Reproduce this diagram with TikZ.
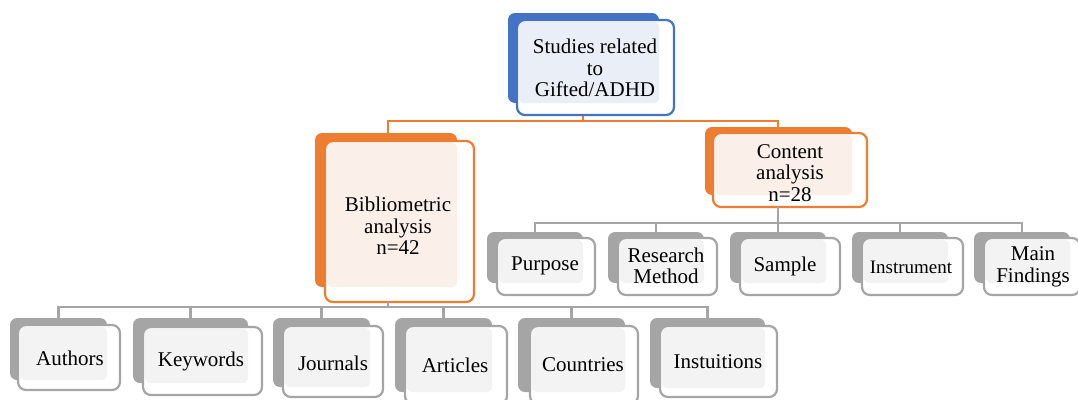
\documentclass[tikz,border=0pt]{standalone}
\usepackage{fontspec}
\setmainfont{Liberation Serif}
\usetikzlibrary{fit}
\definecolor{blueD}{HTML}{4472C4}
\definecolor{blueL}{HTML}{E9EEF7}
\definecolor{orangeD}{HTML}{ED7D31}
\definecolor{orangeL}{HTML}{FBEFE9}
\definecolor{grayD}{HTML}{A5A5A5}
\definecolor{grayL}{HTML}{F3F3F3}
\tikzset{
  backbox/.style={fill=#1D, rounded corners=7pt, inner sep=0pt, draw=none},
  frontbox/.style={fill=white, rounded corners=8pt, inner sep=0pt, draw=none},
  frontline/.style={draw=#1D, line width=2.2pt, rounded corners=8pt, inner sep=0pt},
  lightfill/.style={fill=#1L, rounded corners=6pt},
  txt/.style={align=center, inner sep=0pt, font=\fontsize{21}{21.5}\selectfont},
  small/.style={font=\fontsize{19}{21}\selectfont},
  conn/.style={draw=#1D, line width=2.5pt},
}
% #1 name, #2 theme, #3 back NW, #4 back SE, #5 front NW, #6 front SE, #7 text, #8 text pos, #9 extra text style
\newcommand\layerbox[9]{%
  \coordinate (#1b1) at (#3);
  \coordinate (#1b2) at (#4);
  \coordinate (#1f1) at (#5);
  \coordinate (#1f2) at (#6);
  \node[backbox=#2, fit=(#1b1)(#1b2)] (#1B) {};
  \node[frontbox, fit=(#1f1)(#1f2)] (#1F) {};
  \fill[lightfill=#2] ([shift={(2,2)}]#1F.north west) rectangle (#1B.south east);
  \node[frontline=#2, fit=(#1f1)(#1f2)] (#1L) {};
  \node[txt, #9] (#1T) at (#8) {#7};
}
\begin{document}
\begin{tikzpicture}[x=1pt,y=-1pt]
\useasboundingbox (0,0) rectangle (1078,399);
\coordinate (bar1) at (0,121);
\coordinate (bar2) at (0,223);
\coordinate (bar3) at (0,307);

% connectors (drawn first)
\coordinate (topdrop) at (583,115);
\coordinate (bibdrop) at (388,133);
\coordinate (condrop) at (778,127);
\draw[conn=orange] (topdrop) -- (topdrop|-bar1);
\draw[conn=orange] (bibdrop) -- (bibdrop|-bar1) -- (condrop|-bar1) -- (condrop);

% top
\layerbox{top}{blue}{508,13}{659,103}{517,20}{674,115}{Studies related\\to\\Gifted/ADHD}{595,68}{}
% level 1
\layerbox{bib}{orange}{315,133}{457,287}{325,141}{474,302}{Bibliometric\\analysis\\n=42}{398,226}{}
\layerbox{con}{orange}{705,127}{852,195}{713,133}{867,207}{Content\\analysis\\n=28}{790,173}{}

% gray connectors
\coordinate (c2) at (778,207);
\draw[conn=gray] (c2) -- (c2|-bar2);
\coordinate (b3) at (388,302);
\draw[conn=gray] (b3) -- (b3|-bar3);

% level 2 (content)
\layerbox{pur}{gray}{487,232}{583,283}{497,238}{595,295}{Purpose}{545,266}{}
\layerbox{res}{gray}{608,232}{704,283}{618,238}{717,295}{Research\\Method}{666,266}{}
\layerbox{sam}{gray}{730,232}{826,283}{740,238}{840,295}{Sample}{785,266}{}
\layerbox{ins}{gray}{852,232}{948,283}{862,238}{963,295}{Instrument}{911,267}{small}
\layerbox{mai}{gray}{974,232}{1070,283}{984,238}{1080,295}{Main\\Findings}{1033,267}{}

\draw[conn=gray] (purB.north) -- (purB.north|-bar2) -- (maiB.north|-bar2) -- (maiB.north);
\foreach \n in {res,sam,ins} \draw[conn=gray] (\n B.north) -- (\n B.north|-bar2);

% level 2 (bibliometric)
\layerbox{aut}{gray}{10,318}{107,380}{18,325}{120,390}{Authors}{70,358}{}
\layerbox{key}{gray}{133,318}{248,383}{143,327}{262,395}{Keywords}{201,361}{}
\layerbox{jou}{gray}{273,318}{370,387}{283,326}{383,397}{Journals}{333,363}{}
\layerbox{art}{gray}{395,318}{492,392}{405,326}{507,404}{Articles}{455,365}{}
\layerbox{cou}{gray}{518,318}{625,392}{530,326}{638,404}{Countries}{583,365}{}
\layerbox{ist}{gray}{650,318}{765,388}{660,326}{777,397}{Instuitions}{718,362}{}

\draw[conn=gray] (autB.north) -- (autB.north|-bar3) -- (istB.north|-bar3) -- (istB.north);
\foreach \n in {key,jou,art,cou} \draw[conn=gray] (\n B.north) -- (\n B.north|-bar3);
\end{tikzpicture}
\end{document}
